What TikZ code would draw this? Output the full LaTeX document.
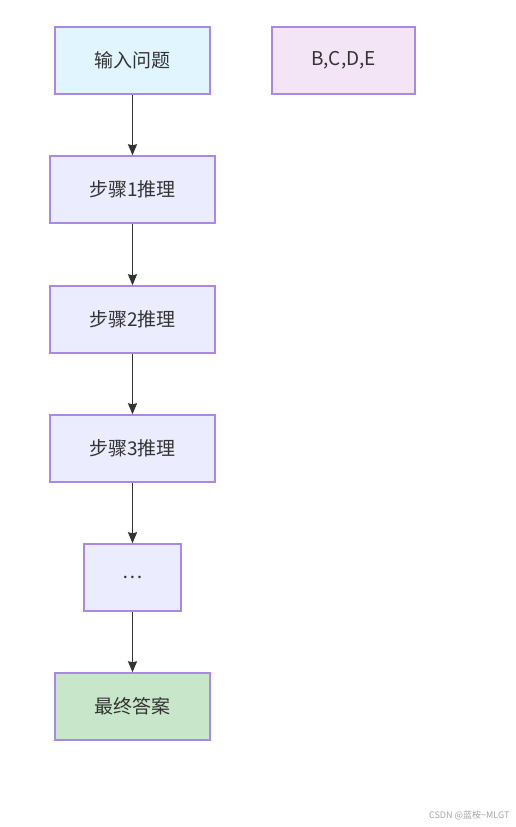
\documentclass[tikz,border=0pt]{standalone}
\usepackage{fontspec}
\setmainfont{Noto Sans CJK SC}
\usepackage{tikz}
\usetikzlibrary{arrows.meta}
\usetikzlibrary{positioning}

\definecolor{boxline}{HTML}{AA88E6}
\definecolor{stepfill}{HTML}{ECECFF}
\definecolor{inputfill}{HTML}{E1F5FE}
\definecolor{otherfill}{HTML}{F3E5F5}
\definecolor{answerfill}{HTML}{C8E6C9}
\definecolor{arrowline}{HTML}{333333}

\begin{document}
\begin{tikzpicture}[x=1pt,y=1pt]
\tikzstyle{every node}=[font=\fontsize{19}{22}\selectfont,text=arrowline]
\tikzstyle{flowbox}=[draw=boxline,line width=1.4pt,fill=stepfill,inner sep=0pt,minimum height=67pt]
\tikzstyle{flowarrow}=[draw=arrowline,line width=1.5pt,-{Stealth[length=11pt,width=9pt,inset=1pt]}]
\useasboundingbox[fill=white] (0,0) rectangle (516,-827);
\node[flowbox,fill=inputfill,minimum width=155pt] (input) at (132.5,-60.5) {输入问题};
\node[flowbox,fill=otherfill,minimum width=143pt] (other) at (343.5,-60.5) {B,C,D,E};
\node[flowbox,minimum width=165pt] (step1) at (132.5,-189.5) {步骤1推理};
\node[flowbox,minimum width=165pt] (step2) at (132.5,-319.5) {步骤2推理};
\node[flowbox,minimum width=165pt] (step3) at (132.5,-448.5) {步骤3推理};
\node[flowbox,minimum width=97pt] (dots) at (132.5,-577.5) {…};
\node[flowbox,fill=answerfill,minimum width=155pt] (answer) at (132.5,-706.5) {最终答案};
% chain of reasoning steps
\draw[flowarrow] (input) -- (step1);
\draw[flowarrow] (step1) -- (step2);
\draw[flowarrow] (step2) -- (step3);
\draw[flowarrow] (step3) -- (dots);
\draw[flowarrow] (dots) -- (answer);
\node[font=\fontsize{9}{10}\selectfont,text=black!35,anchor=east] (mark) at (513,-815) {CSDN @蓝桉\textasciitilde MLGT};
\end{tikzpicture}
\end{document}
